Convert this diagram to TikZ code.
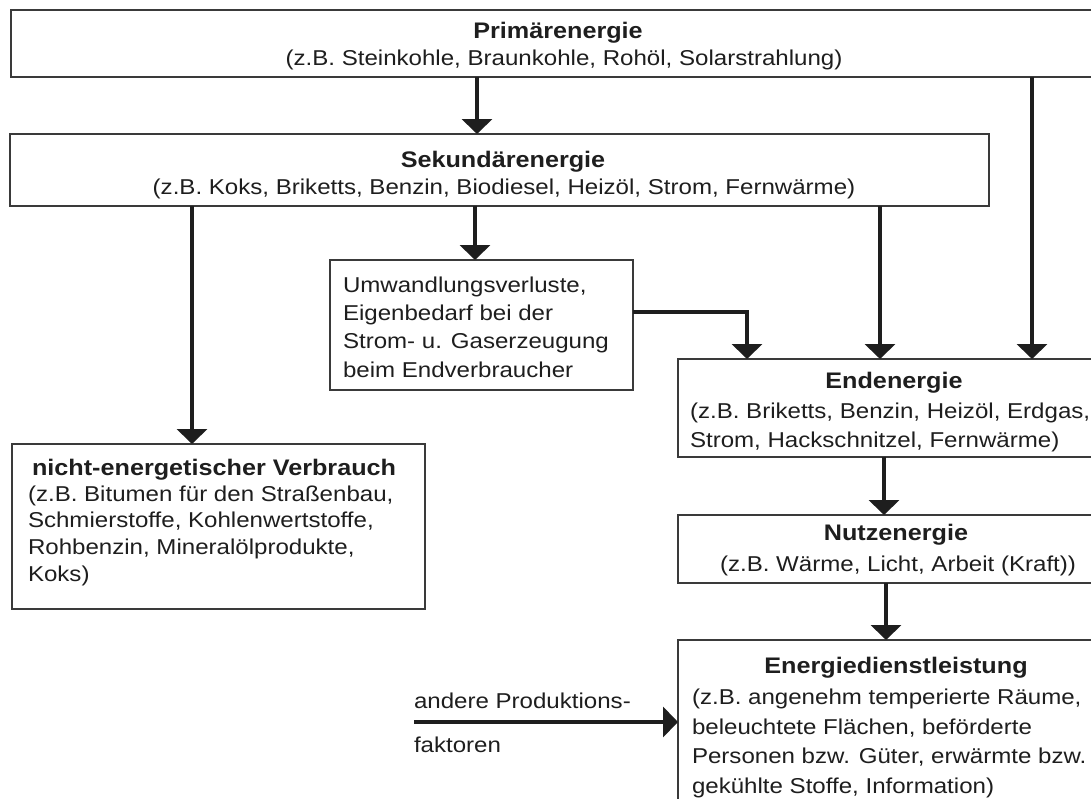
\documentclass[tikz,border=0pt]{standalone}
\usepackage{fontspec}
\setmainfont{Liberation Sans}[FakeStretch=1.12]
\usetikzlibrary{arrows.meta}
\definecolor{ink}{HTML}{1E1E1E}
\definecolor{frame}{HTML}{3A3A3A}
\begin{document}
\begin{tikzpicture}[x=1pt,y=-1pt,
  box/.style={draw=frame, line width=1.6pt, inner sep=0pt, outer sep=0pt, rectangle, anchor=north west},
  arr/.style={draw=ink, line width=4.5pt, -{Triangle[width=30pt,length=15pt]}},
  txt/.style={inner sep=0pt, outer sep=0pt, text=ink, font=\fontsize{21.5}{29}\selectfont},
  ttl/.style={inner sep=0pt, outer sep=0pt, text=ink, font=\fontsize{22.5}{29}\selectfont\bfseries},
]
\useasboundingbox (0,0) rectangle (1091,798);
\clip (0,0) rectangle (1091,798);
\fill[white] (0,0) rectangle (1091,798);

% boxes
\node[box, minimum width=1100pt, minimum height=67pt] (prim) at (11,10) {};
\node[box, minimum width=979pt, minimum height=72pt] (sek) at (10,134) {};
\node[box, minimum width=303pt, minimum height=130pt] (umw) at (330,260) {};
\node[box, minimum width=413pt, minimum height=165pt] (nicht) at (12,444) {};
\node[box, minimum width=440pt, minimum height=98pt] (end) at (678,359) {};
\node[box, minimum width=440pt, minimum height=68pt] (nutz) at (678,515) {};
\node[box, minimum width=440pt, minimum height=200pt] (ed) at (678,640) {};

% texts
\node[ttl, anchor=base] (primT) at (558,38) {Primärenergie};
\node[txt, anchor=base] (primS) at (564,65) {(z.B. Steinkohle, Braunkohle, Rohöl, Solarstrahlung)};

\node[ttl, anchor=base] (sekT) at (503,167) {Sekundärenergie};
\node[txt, anchor=base] (sekS) at (504,194) {(z.B. Koks, Briketts, Benzin, Biodiesel, Heizöl, Strom, Fernwärme)};

\node[txt, anchor=base west] (umw1) at (343,292) {Umwandlungsverluste,};
\node[txt, anchor=base west] (umw2) at (343,320) {Eigenbedarf bei der};
\node[txt, anchor=base west] (umw3) at (343,348.5) {Strom- u. Gaserzeugung};
\node[txt, anchor=base west] (umw4) at (343,377) {beim Endverbraucher};

\node[ttl, anchor=base west] (nichtT) at (32,475) {nicht-energetischer Verbrauch};
\node[txt, anchor=base west] (nicht1) at (28,501) {(z.B. Bitumen für den Straßenbau,};
\node[txt, anchor=base west] (nicht2) at (28,527.5) {Schmierstoffe, Kohlenwertstoffe,};
\node[txt, anchor=base west] (nicht3) at (28,554) {Rohbenzin, Mineralölprodukte,};
\node[txt, anchor=base west] (nicht4) at (28,581.5) {Koks)};

\node[ttl, anchor=base] (endT) at (894,388) {Endenergie};
\node[txt, anchor=base west] (end1) at (690,418) {(z.B. Briketts, Benzin, Heizöl, Erdgas,};
\node[txt, anchor=base west] (end2) at (690,447) {Strom, Hackschnitzel, Fernwärme)};

\node[ttl, anchor=base] (nutzT) at (896,540) {Nutzenergie};
\node[txt, anchor=base] (nutzS) at (898,571) {(z.B. Wärme, Licht, Arbeit (Kraft))};

\node[ttl, anchor=base] (edT) at (896,673) {Energiedienstleistung};
\node[txt, anchor=base west] (ed1) at (692,704) {(z.B. angenehm temperierte Räume,};
\node[txt, anchor=base west] (ed2) at (692,734) {beleuchtete Flächen, beförderte};
\node[txt, anchor=base west] (ed3) at (692,763.5) {Personen bzw. Güter, erwärmte bzw.};
\node[txt, anchor=base west] (ed4) at (692,793) {gekühlte Stoffe, Information)};

\node[txt, anchor=base west] (and1) at (414,708) {andere Produktions-};
\node[txt, anchor=base west] (and2) at (414,752) {faktoren};

% x positions of connectors
\coordinate (xa) at (477,0);
\coordinate (xb) at (1032,0);
\coordinate (xc) at (192,0);
\coordinate (xd) at (475,0);
\coordinate (xe) at (880,0);
\coordinate (xf) at (747,0);
\coordinate (xg) at (884,0);
\coordinate (xh) at (886,0);
\coordinate (ya) at (0,312);
\coordinate (andStart) at (414,722);

% connectors
\draw[arr] (prim.south -| xa) -- (sek.north -| xa);
\draw[arr] (prim.south -| xb) -- (end.north -| xb);
\draw[arr] (sek.south -| xc) -- (nicht.north -| xc);
\draw[arr] (sek.south -| xd) -- (umw.north -| xd);
\draw[arr] (sek.south -| xe) -- (end.north -| xe);
\draw[arr] (umw.east |- ya) -| (end.north -| xf);
\draw[arr] (end.south -| xg) -- (nutz.north -| xg);
\draw[arr] (nutz.south -| xh) -- (ed.north -| xh);
\draw[arr] (andStart) -- (ed.west |- andStart);
\end{tikzpicture}
\end{document}
